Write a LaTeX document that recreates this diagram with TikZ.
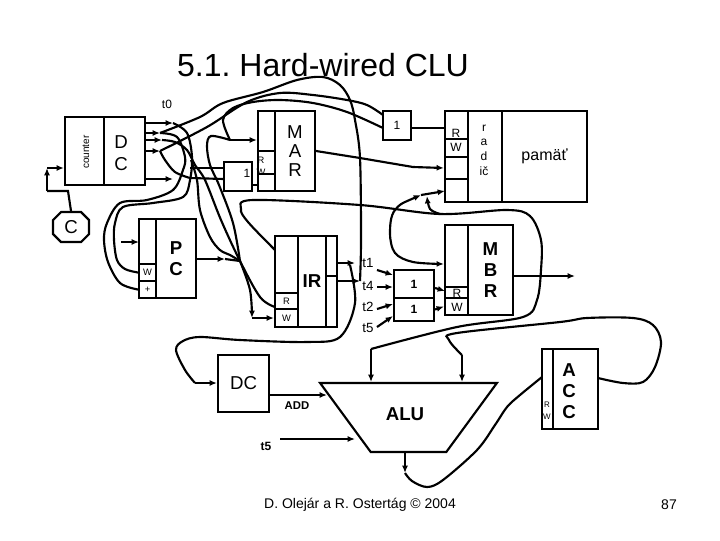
\documentclass[tikz,border=0pt]{standalone}
\usepackage{fontspec}
\setmainfont{Liberation Sans}
\usetikzlibrary{arrows.meta,shapes.misc,shapes.geometric}
\tikzset{
  cell/.style={draw, line width=1.6pt, inner sep=0pt, align=center},
  wh/.style 2 args={minimum width=#1*0.75pt, minimum height=#2*0.75pt},
  wire/.style={line width=1.6pt},
  tip/.style={wire, -{Latex[length=5.5pt,width=4.5pt]}},
  bothtip/.style={wire, {Latex[length=5.5pt,width=4.5pt]}-{Latex[length=5.5pt,width=4.5pt]}},
  curve/.style={smooth, tension=0.55},
  big/.style={font=\fontsize{14}{16}\selectfont},
  bigb/.style={font=\bfseries\fontsize{14}{16}\selectfont},
  mid/.style={font=\fontsize{9}{11}\selectfont, inner sep=0pt},
  small/.style={font=\fontsize{7}{8}\selectfont, inner sep=0pt},
}
\begin{document}
\frenchspacing
\begin{tikzpicture}[x=0.75pt, y=-0.75pt]
\useasboundingbox (0,0) rectangle (720,540);

\node[inner sep=0pt, font=\fontsize{24}{26}\selectfont] (title) at (323,65) {5.1. Hard-wired CLU};
\node[inner sep=0pt, font=\fontsize{10.5}{12}\selectfont] (footer) at (360,505) {D. Olejár a R. Ostertág © 2004};
\node[inner sep=0pt, font=\fontsize{10.5}{12}\selectfont] (pageno) at (669,505) {87};

% counter and decoder
\node[cell, wh={39}{68}] (counter) at (84.5,151) {};
\node[inner sep=0pt, rotate=90, font=\fontsize{7.5}{9}\selectfont] (countertext) at (86,152) {counter};
\node[cell, wh={41}{68}] (dec) at (124.5,151) {};
\node[inner sep=0pt, big, align=center, font=\fontsize{14}{16}\selectfont] (dectext) at (121,153) {D\\C};
\node[mid] (t0) at (167,104) {t0};
\node[cell, chamfered rectangle, chamfered rectangle xsep=3pt, chamfered rectangle ysep=3pt, wh={36}{30}, big] (clock) at (71,227) {C};

% MAR
\node[cell, wh={17}{40}] (marTop) at (266.5,131) {};
\node[cell, wh={17}{23}] (marR) at (266.5,162.5) {};
\node[cell, wh={17}{17}] (marW) at (266.5,182.5) {};
\node[cell, wh={40}{80}, big, font=\fontsize{14}{14.5}\selectfont] (mar) at (295,151) {M\\A\\R};
\node[cell, wh={28}{29}] (orMar) at (238,176.5) {};
\node[mid] (orMarText) at (247,173) {1};
\node[small] (marRtext) at (261,160) {R};
\node[small] (marWtext) at (261,172) {W};

% memory
\node[cell, wh={28}{29}, mid] (orMem) at (397,125.5) {1};
\node[cell, wh={23}{28}] (memR) at (456.5,125) {};
\node[cell, wh={23}{18}] (memW) at (456.5,148) {};
\node[cell, wh={23}{22}] (memC) at (456.5,168) {};
\node[cell, wh={23}{23}] (memD) at (456.5,190.5) {};
\node[mid] (memRtext) at (456,133) {R};
\node[mid] (memWtext) at (456,147) {W};
\node[cell, wh={34}{91}] (radic) at (485,156.5) {};
\node[inner sep=0pt, align=center, font=\fontsize{9}{11}\selectfont] (radictext) at (484,150) {r\\a\\d\\ič};
\node[cell, wh={85}{91}, font=\fontsize{12}{14}\selectfont] (pamat) at (544.5,156.5) {pamäť};

% PC
\node[cell, wh={17}{45}] (pcTop) at (147.5,241.5) {};
\node[cell, wh={17}{17}, small] (pcW) at (147.5,272.5) {W};
\node[cell, wh={17}{17}, small] (pcPlus) at (147.5,289.5) {+};
\node[cell, wh={40}{79}, bigb] (pc) at (176,258.5) {P\\C};

% IR
\node[cell, wh={23}{57}] (irTop) at (286.5,264.5) {};
\node[cell, wh={23}{16}, small] (irR) at (286.5,301) {R};
\node[cell, wh={23}{18}, small] (irW) at (286.5,318) {W};
\node[cell, wh={28}{91}, bigb] (ir) at (312,281.5) {IR};
\node[cell, wh={11}{40}] (irA) at (331.5,256) {};
\node[cell, wh={11}{51}] (irB) at (331.5,301.5) {};

% t labels and the two gates
\node[mid, font=\fontsize{10}{12}\selectfont] (t1) at (368,263) {t1};
\node[mid, font=\fontsize{10}{12}\selectfont] (t4) at (368,286) {t4};
\node[mid, font=\fontsize{10}{12}\selectfont] (t2) at (368,307) {t2};
\node[mid, font=\fontsize{10}{12}\selectfont] (t5) at (368,328) {t5};
\node[cell, wh={40}{28}, mid, font=\bfseries\fontsize{9}{11}\selectfont] (orR) at (414,284) {1};
\node[cell, wh={40}{23}, mid, font=\bfseries\fontsize{9}{11}\selectfont] (orW) at (414,309.5) {1};

% MBR
\node[cell, wh={23}{62}] (mbrTop) at (456.5,256) {};
\node[cell, wh={23}{11}] (mbrR) at (456.5,292.5) {};
\node[cell, wh={23}{17}] (mbrW) at (456.5,306.5) {};
\node[mid] (mbrRtext) at (457,293) {R};
\node[mid] (mbrWtext) at (457,307) {W};
\node[cell, wh={45}{90}, bigb] (mbr) at (490.5,270) {M\\B\\R};

% ACC
\node[cell, wh={11}{80}] (accRW) at (547.5,389) {};
\node[cell, wh={45}{80}] (acc) at (575.5,389) {};
\node[inner sep=0pt, bigb, align=center] (acctext) at (569,391) {A\\C\\C};
\node[inner sep=0pt, font=\fontsize{6}{7}\selectfont] (accRtext) at (547,405) {R};
\node[inner sep=0pt, font=\fontsize{6}{7}\selectfont] (accWtext) at (547,417) {W};

% DC and ALU
\node[cell, wh={51}{57}, big] (dc) at (243.5,383.5) {DC};
\node[cell, trapezium, shape border rotate=180, trapezium stretches=true, trapezium left angle=57, trapezium right angle=57, wh={177}{69}] (alu) at (408.5,417.5) {\phantom{A}};
\node[inner sep=0pt, bigb] (alutext) at (405,414) {ALU};
\node[inner sep=0pt, font=\bfseries\fontsize{8.5}{10}\selectfont] (add) at (297,406) {ADD};
\node[inner sep=0pt, font=\bfseries\fontsize{9}{11}\selectfont] (t5b) at (266,446) {t5};

% free ends
\coordinate (o1) at (173,123);
\coordinate (o2) at (160,133);
\coordinate (o3) at (162,140);
\coordinate (o4) at (160,151);
\coordinate (o5) at (173,179);
\coordinate (x) at (240,261);
\coordinate (pcTip) at (225,259);
\coordinate (irTip) at (252,318);
\coordinate (marTip) at (230,140);
\coordinate (cUp) at (47,168);
\coordinate (b1) at (355,263);
\coordinate (b2) at (360,281);
\coordinate (dcIn) at (195,383);
\coordinate (memSplit) at (440,214);
\coordinate (aluA) at (371,382);
\coordinate (aluB) at (462,382);
\coordinate (aluAtop) at (371,349);
\coordinate (aluBtop) at (462,355);
\coordinate (aluDown) at (405,473);

% arrows of the decoder
\draw[tip] (o1 -| dec.east) -- (o1);
\draw[tip] (o2 -| dec.east) -- (o2);
\draw[tip] (o3 -| dec.east) -- (o3);
\draw[tip] (o4 -| dec.east) -- (o4);
\draw[tip] (o5 -| dec.east) -- (o5);
\draw[wire] (clock.north) -- (68,191) -- (47,191);
\draw[tip] (47,191) -- (cUp);
\draw[tip] (cUp) -- (counter.west |- cUp);

% curves from the decoder
\draw[wire] plot[curve] coordinates {(o2) (177,137) (185,157) (183,170) (173,190) (147,200) (120,203) (107,223) (104,240) (108,262) (120,283) (pcPlus.west)};
\draw[wire] plot[curve] coordinates {(o1) (187,133) (192,157) (190,180) (183,197) (153,203) (123,207) (115,223) (114,240) (117,260) (125,269) (pcW.west)};
\draw[wire] plot[curve] coordinates {(o2) (200,117) (223,103) (263,92) (297,80) (323,77) (340,85) (350,100) (355,120) (360,158) (361,240) (b2)};
\draw[wire] plot[curve] coordinates {(o4) (207,127) (247,102) (280,93) (313,95) (347,100) (367,105) (383,115)};
\draw[wire] plot[curve] coordinates {(383,128) (347,112) (313,103) (280,100) (253,102) (233,108) (223,120) (marTip)};
\draw[tip] (marTip) -- (marTop.west |- marTip);
\draw[wire] plot[curve] coordinates {(marTip) (211,136) (207,146) (210,165) (219,185) (233,223) (x)};
\draw[wire] plot[curve] coordinates {(o3) (175,142) (187,150) (195,165) (205,180) (221,220) (x) (260,297) (275,307)};
\draw[wire] plot[curve] coordinates {(191,160) (197,180) (200,210) (210,237) (220,250) (230,255) (x)};
\draw[wire] (190,168) -- (224,168);
\draw[wire] plot[curve] coordinates {(o4) (165,160) (175,172) (190,178)} -- (224,179);
\draw[wire] (orMar.east |- 0,185) -- (marW.west |- 0,185);
\draw[tip] (121,242) -- (139,242);

% PC to IR
\draw[tip] (pc.east |- pcTip) -- (pcTip);
\draw[wire] (pcTip) -- (x);
\draw[tip] plot[curve] coordinates {(x) (250,290) (irTip)};
\draw[tip] (irTip) -- (irW.west);

% long wire from IR
\draw[wire] plot[curve] coordinates {(275,250) (248,222) (241,209) (253,200) (360,205) (memSplit) (507,210) (530,216) (541,240) (541,270) (537,300) (523,317) (457,327) (aluAtop)};
\draw[tip] plot[curve] coordinates {(memSplit) (430,209) (427,196)};
\draw[tip] (aluAtop) -- (aluA);
\draw[tip] (mar.east |- 0,151) -- (360,158) -- (413,167) -- (memC.west);
\draw[wire] (orMem.east |- 0,128) -- (memR.west |- 0,128);
\draw[bothtip] plot[curve] coordinates {(421,195) (395,210) (390,233) (395,253) (413,262) (mbrTop.west |- 0,264)};
\draw[tip] (421,195) -- (445,191);

% IR outputs
\draw[tip] (irA.east |- b1) -- (b1);
\draw[tip] (irB.east |- b2) -- (b2);
\draw[wire] plot[curve] coordinates {(350,265) (355,303) (340,337) (307,342) (240,340) (200,337) (183,341) (176,350) (185,370) (dcIn)};
\draw[tip] (dcIn) -- (dc.west |- dcIn);

% t arrows
\draw[tip] (377,270) -- (393,275);
\draw[tip] (377,287) -- (393,287);
\draw[tip] (377,309) -- (393,304);
\draw[tip] (377,327) -- (393,316);
\draw[tip] (orR.east |- 0,288) -- (445,291);
\draw[tip] (orW.east) -- (mbrW.west);
\draw[tip] (mbr.east |- 0,276) -- (575,276);

% ACC and ALU
\draw[wire] plot[curve] coordinates {(598,378) (623,383) (643,382) (655,367) (661,342) (653,325) (633,318) (587,318) (560,322) (457,333) (449,340) (aluBtop)};
\draw[tip] (aluBtop) -- (aluB);
\draw[tip] (405,452) -- (aluDown);
\draw[wire] plot[curve] coordinates {(aluDown) (412,481) (427,487) (443,480) (477,450) (495,425) (507,407) (520,395) (542,377)};
\draw[tip] (dc.east |- 0,395) -- (327,395);
\draw[tip] (280,439) -- (355,439);

\end{tikzpicture}
\end{document}
